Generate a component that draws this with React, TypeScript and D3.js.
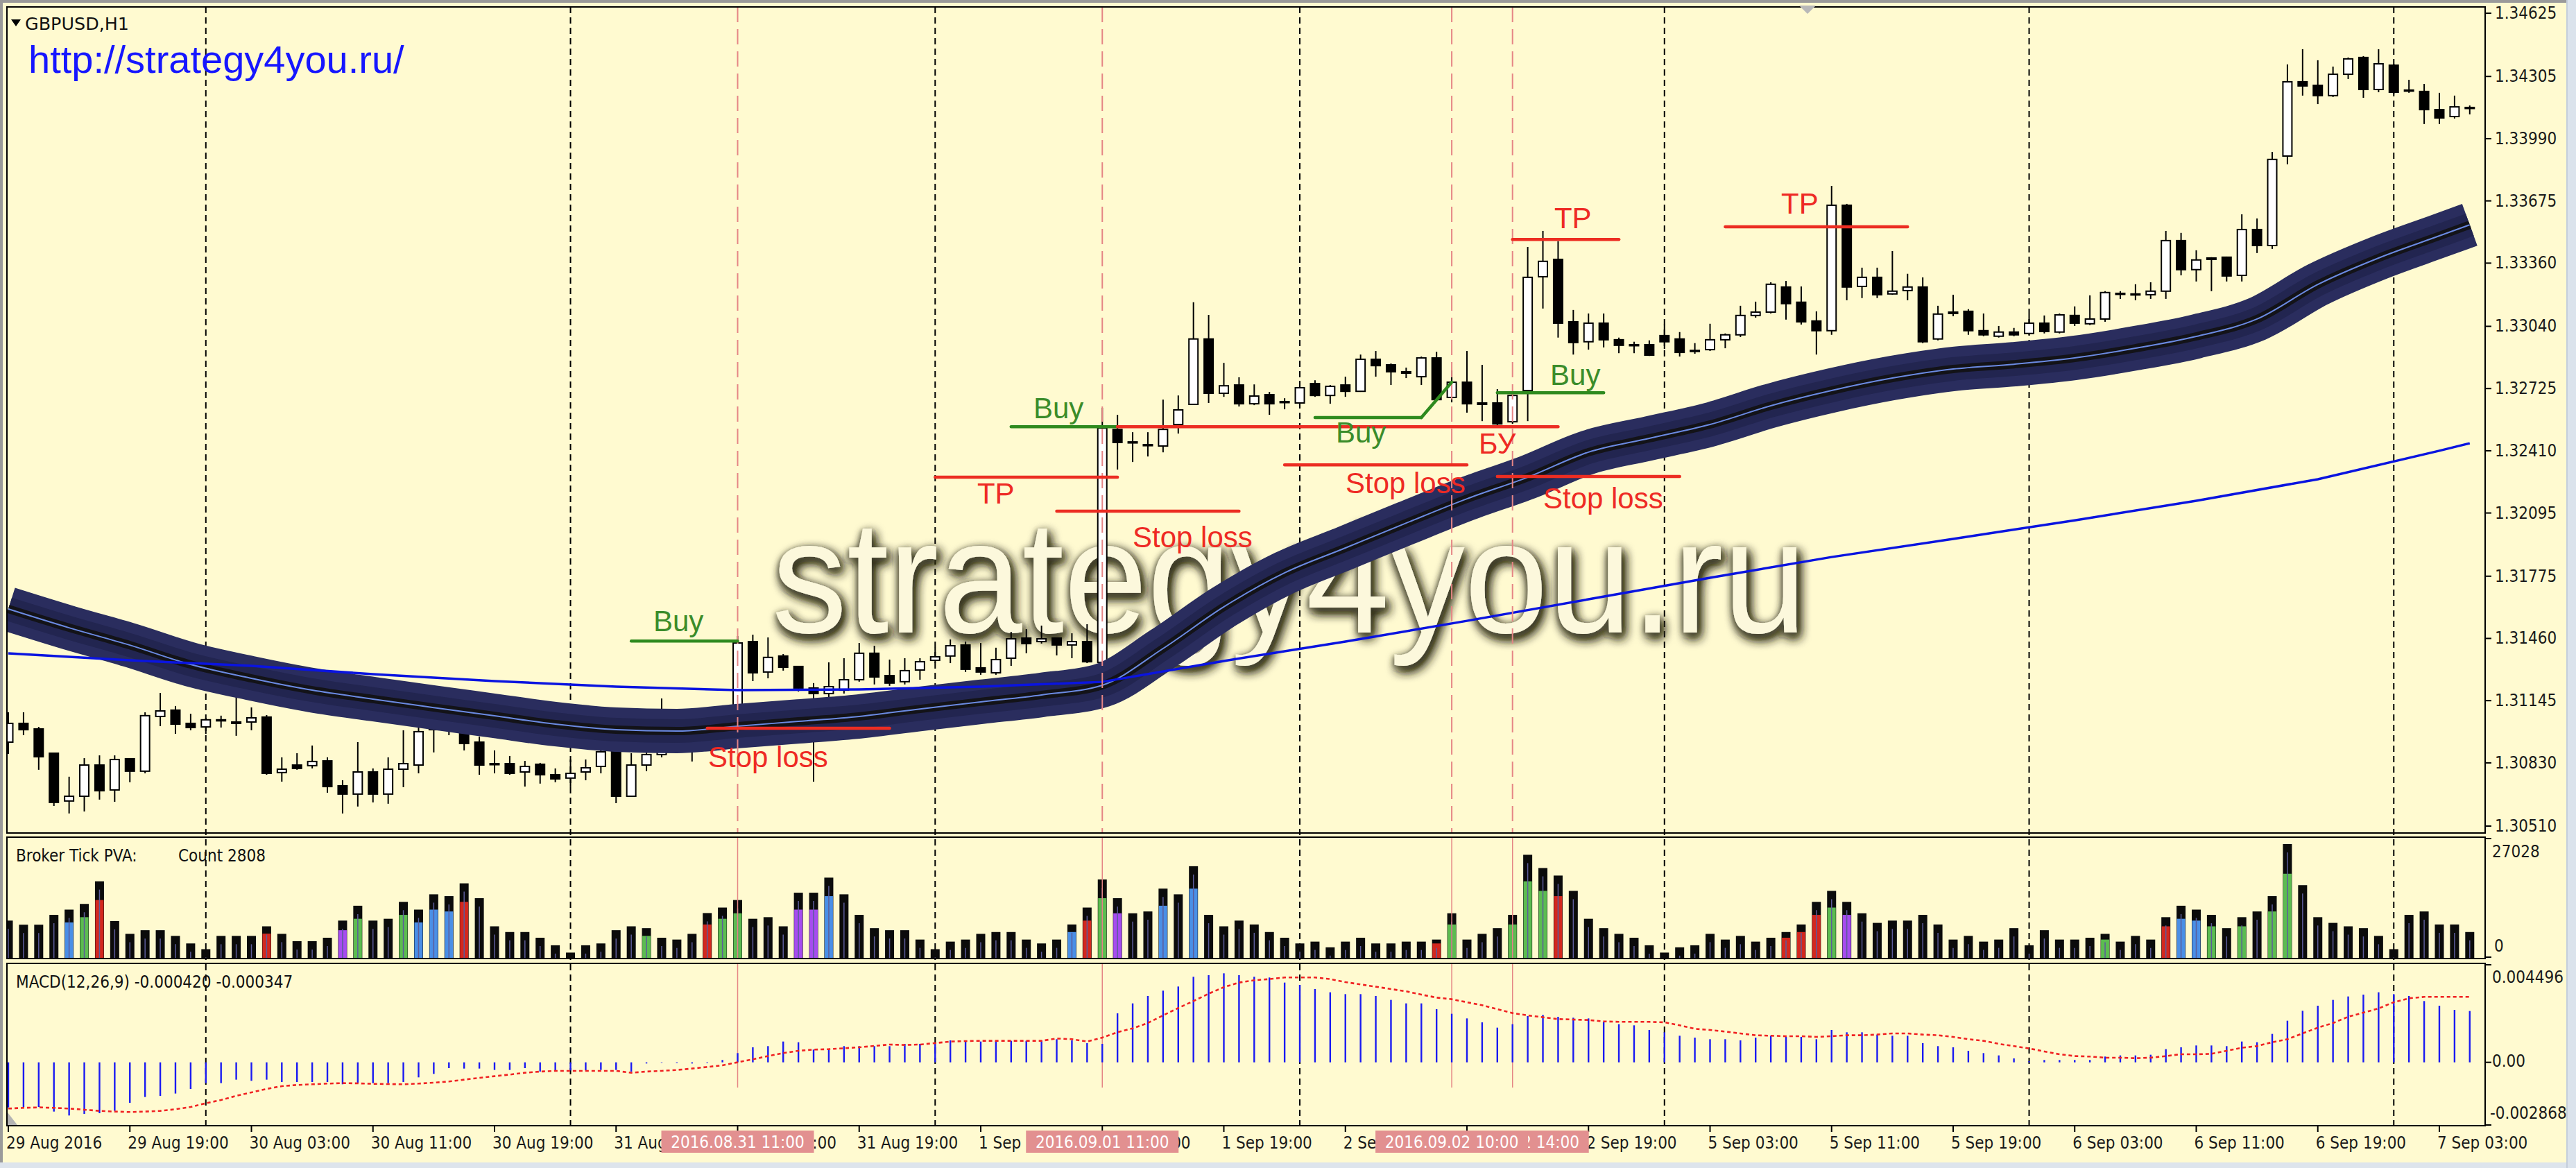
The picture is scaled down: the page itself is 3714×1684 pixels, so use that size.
import React from "react";
import * as d3 from "d3";

// ---------------- DATA ----------------
const openP = [1.30935,1.31030,1.31002,1.30879,1.30637,1.30661,1.30819,1.30693,1.30851,1.30788,
1.31065,1.31097,1.31030,1.31012,1.31048,1.31037,1.31037,1.31062,1.30781,1.30819,
1.30816,1.30840,1.30714,1.30672,1.30784,1.30672,1.30798,1.30819,1.30998,1.31034,
1.30977,1.30935,1.30826,1.30826,1.30784,1.30823,1.30770,1.30753,1.30784,1.30812,
1.30893,1.30661,1.30819,1.30872,1.31041,1.31005,1.30970,1.31005,1.31034,1.31444,
1.31290,1.31371,1.31318,1.31209,1.31181,1.31198,1.31251,1.31385,1.31272,1.31241,
1.31300,1.31349,1.31371,1.31427,1.31311,1.31286,1.31360,1.31462,1.31444,1.31462,
1.31427,1.31444,1.31339,1.32518,1.32455,1.32441,1.32434,1.32543,1.32645,1.32976,
1.32701,1.32743,1.32648,1.32694,1.32659,1.32652,1.32750,1.32690,1.32743,1.32711,
1.32873,1.32845,1.32810,1.32785,1.32880,1.32680,1.32757,1.32652,1.32652,1.32557,
1.32715,1.33291,1.33379,1.33063,1.32962,1.33056,1.32972,1.32947,1.32947,1.32993,
1.32976,1.32918,1.32922,1.32972,1.32997,1.33095,1.33112,1.33239,1.33162,1.33067,
1.33018,1.33653,1.33242,1.33288,1.33204,1.33221,1.33239,1.32976,1.33112,1.33116,
1.33018,1.32990,1.33011,1.33004,1.33056,1.33011,1.33095,1.33053,1.33077,1.33204,
1.33200,1.33200,1.33218,1.33474,1.33327,1.33386,1.33390,1.33298,1.33530,1.33449,
1.33902,1.34278,1.34260,1.34208,1.34316,1.34401,1.34239,1.34362,1.34232,1.34229,
1.34137,1.34102,1.34148];

const highP = [1.31086,1.31086,1.31012,1.30879,1.30760,1.30854,1.30868,1.30868,1.30854,1.31086,
1.31184,1.31118,1.31079,1.31058,1.31069,1.31170,1.31111,1.31072,1.30858,1.30879,
1.30918,1.30858,1.30742,1.30935,1.30802,1.30858,1.30995,1.31012,1.31058,1.31076,
1.30995,1.30963,1.30893,1.30865,1.30840,1.30830,1.30802,1.30847,1.30847,1.30907,
1.30918,1.30879,1.30900,1.31156,1.31076,1.31041,1.31023,1.31058,1.31472,1.31479,
1.31465,1.31381,1.31321,1.31234,1.31339,1.31360,1.31437,1.31423,1.31353,1.31360,
1.31360,1.31413,1.31455,1.31444,1.31437,1.31413,1.31493,1.31507,1.31525,1.31462,
1.31486,1.31532,1.32627,1.32592,1.32504,1.32504,1.32669,1.32690,1.33162,1.33098,
1.32855,1.32782,1.32746,1.32708,1.32676,1.32764,1.32767,1.32743,1.32785,1.32897,
1.32915,1.32852,1.32831,1.32887,1.32911,1.32817,1.32915,1.32845,1.32722,1.32701,
1.33442,1.33523,1.33471,1.33123,1.33105,1.33105,1.32983,1.32962,1.32969,1.33049,
1.33011,1.32955,1.33053,1.33004,1.33144,1.33165,1.33263,1.33270,1.33242,1.33116,
1.33751,1.33660,1.33337,1.33337,1.33421,1.33306,1.33288,1.33144,1.33200,1.33127,
1.33105,1.33042,1.33032,1.33098,1.33095,1.33105,1.33141,1.33197,1.33218,1.33218,
1.33253,1.33263,1.33523,1.33513,1.33425,1.33390,1.33393,1.33607,1.33586,1.33923,
1.34366,1.34443,1.34387,1.34355,1.34401,1.34408,1.34443,1.34369,1.34288,1.34267,
1.34222,1.34208,1.34158];

const lowP = [1.30875,1.30970,1.30795,1.30612,1.30574,1.30584,1.30644,1.30633,1.30732,1.30777,
1.31016,1.30977,1.30995,1.30977,1.31009,1.30967,1.30995,1.30770,1.30735,1.30795,
1.30802,1.30679,1.30574,1.30609,1.30630,1.30623,1.30707,1.30777,1.30883,1.30970,
1.30893,1.30770,1.30777,1.30770,1.30710,1.30725,1.30732,1.30707,1.30742,1.30777,
1.30626,1.30661,1.30788,1.30858,1.30970,1.30837,1.30918,1.30953,1.31012,1.31244,
1.31258,1.31297,1.31191,1.30735,1.31146,1.31181,1.31241,1.31227,1.31220,1.31227,
1.31251,1.31335,1.31335,1.31290,1.31276,1.31276,1.31321,1.31385,1.31434,1.31374,
1.31360,1.31335,1.31321,1.32315,1.32353,1.32381,1.32402,1.32497,1.32645,1.32652,
1.32683,1.32634,1.32641,1.32592,1.32620,1.32627,1.32683,1.32648,1.32683,1.32708,
1.32785,1.32743,1.32778,1.32743,1.32669,1.32655,1.32603,1.32560,1.32539,1.32546,
1.32560,1.33130,1.32983,1.32897,1.32922,1.32933,1.32904,1.32904,1.32890,1.32926,
1.32887,1.32901,1.32915,1.32929,1.32986,1.33084,1.33105,1.33074,1.33049,1.32897,
1.32997,1.33172,1.33183,1.33183,1.33200,1.33172,1.32955,1.32969,1.33091,1.32997,
1.32990,1.32983,1.32990,1.32997,1.33004,1.33004,1.33042,1.33046,1.33063,1.33179,
1.33172,1.33179,1.33179,1.33298,1.33267,1.33218,1.33267,1.33267,1.33411,1.33432,
1.33860,1.34208,1.34165,1.34201,1.34292,1.34197,1.34225,1.34215,1.34222,1.34064,
1.34064,1.34092,1.34113];

const closeP = [1.31030,1.30998,1.30861,1.30630,1.30661,1.30819,1.30689,1.30847,1.30788,1.31069,
1.31093,1.31026,1.31009,1.31048,1.31045,1.31030,1.31058,1.30777,1.30798,1.30802,
1.30837,1.30710,1.30672,1.30784,1.30672,1.30798,1.30826,1.30988,1.31034,1.31005,
1.30928,1.30819,1.30823,1.30777,1.30812,1.30770,1.30749,1.30777,1.30805,1.30886,
1.30661,1.30819,1.30872,1.31041,1.31005,1.30970,1.31005,1.31034,1.31437,1.31286,
1.31364,1.31314,1.31209,1.31181,1.31216,1.31251,1.31385,1.31265,1.31234,1.31297,
1.31342,1.31367,1.31423,1.31304,1.31290,1.31353,1.31458,1.31434,1.31458,1.31427,
1.31444,1.31342,1.32525,1.32452,1.32452,1.32437,1.32518,1.32617,1.32976,1.32701,
1.32739,1.32648,1.32687,1.32648,1.32655,1.32729,1.32690,1.32736,1.32711,1.32873,
1.32841,1.32810,1.32803,1.32880,1.32669,1.32757,1.32648,1.32645,1.32546,1.32690,
1.33288,1.33369,1.33056,1.32958,1.33056,1.32972,1.32944,1.32944,1.32894,1.32962,
1.32908,1.32915,1.32972,1.32997,1.33095,1.33112,1.33253,1.33155,1.33063,1.33018,
1.33653,1.33239,1.33288,1.33200,1.33218,1.33239,1.32962,1.33102,1.33105,1.33018,
1.32997,1.33011,1.32997,1.33056,1.33014,1.33098,1.33056,1.33077,1.33211,1.33207,
1.33204,1.33218,1.33474,1.33327,1.33376,1.33379,1.33295,1.33530,1.33449,1.33885,
1.34278,1.34257,1.34208,1.34316,1.34394,1.34239,1.34369,1.34225,1.34236,1.34137,
1.34095,1.34151,1.34144];

const tickVolume = [8851,7874,7874,10208,11457,12815,18191,8742,5702,6570,
6570,5213,3421,2063,5213,5213,5213,7493,5702,3964,
3964,4778,8851,12380,8851,9285,13304,11457,15095,14661,
17702,14172,7493,6136,6136,4778,2987,1249,2987,3421,
6570,7493,7059,4778,4344,5702,10643,11946,13738,9285,
9665,7493,15476,15476,19059,15095,10208,7059,6570,6570,
4344,2063,3855,4344,5702,6136,6136,4344,3421,4344,
7928,11946,18625,14172,10589,11023,16453,15095,21774,10208,
7493,8851,7928,6136,4778,3421,3855,2498,3855,4778,
3421,3421,3855,3855,4344,10589,4344,5702,7059,10208,
24489,21340,19548,15910,9285,7059,5702,4778,2987,1249,
2498,2987,5702,4344,5213,3855,4778,6136,7928,13304,
15910,13304,10589,8308,8851,8851,10208,7928,4344,5213,
3855,4344,7059,2987,6570,4344,4344,4778,5702,3855,
5213,4344,9665,12380,11457,10208,7059,9665,11023,14661,
27028,17267,9665,8308,7493,7059,5213,2063,10208,11023,
7928,7928,6136];

const accentBars = [4,5,6,17,22,23,26,27,28,29,30,42,46,47,48,52,53,54,70,71,72,73,76,78,94,95,99,100,101,102,117,118,119,120,121,138,142,143,144,145,147,149,150];
const accentVolume = [8417,9665,13738,5756,6570,9285,10208,8417,11457,11023,13304,5213,7928,9285,10589,11457,11457,14661,6136,8851,14172,10589,12380,16453,3421,7928,7928,18191,15910,14661,4778,6136,10208,11946,10208,4344,7493,9285,8851,7493,7493,11023,19982];
const accentTone = "bgrrpggbbbrgrggppbbrgpbbrggggrrrrgpgrbbggg".padEnd(43, "g");

const macdMain = [-0.002063,-0.002042,-0.002042,-0.002254,-0.002433,-0.002359,-0.002328,-0.002222,-0.001852,-0.001587,
-0.001534,-0.001428,-0.001217,-0.000952,-0.000952,-0.000794,-0.000846,-0.000794,-0.000899,-0.000899,
-0.000899,-0.000899,-0.001005,-0.000952,-0.000952,-0.000952,-0.000899,-0.000688,-0.000529,-0.000265,
-0.000286,-0.000286,-0.000349,-0.000349,-0.000265,-0.000423,-0.000370,-0.000370,-0.000370,-0.000349,
-0.000349,-0.000423,-0.000053,-0.000021,-0.000032,-0.000053,-0.000032,0.000106,0.000423,0.000688,
0.000741,0.000952,0.000920,0.000582,0.000582,0.000741,0.000741,0.000741,0.000741,0.000846,
0.000846,0.000899,0.001005,0.000984,0.000952,0.000984,0.000984,0.000984,0.001005,0.001058,
0.001005,0.000878,0.000846,0.002243,0.002698,0.003036,0.003280,0.003470,0.003915,0.003989,
0.004073,0.003989,0.003915,0.003883,0.003650,0.003544,0.003354,0.003206,0.003121,0.003121,
0.003036,0.002857,0.002698,0.002698,0.002433,0.002222,0.002010,0.001830,0.001587,0.001746,
0.002116,0.002169,0.002084,0.002042,0.002010,0.001852,0.001746,0.001693,0.001481,0.001375,
0.001217,0.001132,0.001058,0.001058,0.001005,0.001132,0.001217,0.001164,0.001164,0.001058,
0.001481,0.001375,0.001375,0.001270,0.001217,0.001217,0.000878,0.000741,0.000688,0.000529,
0.000423,0.000317,0.000180,0.000053,0.000106,0.000106,0.000106,0.000106,0.000265,0.000317,
0.000317,0.000349,0.000603,0.000688,0.000772,0.000772,0.000741,0.000952,0.000920,0.001301,
0.001904,0.002359,0.002592,0.002857,0.003015,0.003100,0.003206,0.003121,0.003036,0.002804,
0.002592,0.002402,0.002349];

const macdSignal = [-0.002116,-0.002084,-0.002063,-0.002084,-0.002116,-0.002169,-0.002222,-0.002254,-0.002275,-0.002254,
-0.002222,-0.002148,-0.002042,-0.001873,-0.001725,-0.001534,-0.001375,-0.001217,-0.001090,-0.001037,
-0.001005,-0.000973,-0.000952,-0.000963,-0.000984,-0.000995,-0.001005,-0.000973,-0.000931,-0.000878,
-0.000794,-0.000709,-0.000635,-0.000561,-0.000476,-0.000423,-0.000391,-0.000391,-0.000391,-0.000391,
-0.000391,-0.000476,-0.000423,-0.000391,-0.000349,-0.000286,-0.000212,-0.000138,0.000000,0.000138,
0.000286,0.000423,0.000529,0.000582,0.000603,0.000645,0.000688,0.000751,0.000815,0.000794,
0.000815,0.000878,0.000952,0.000973,0.000984,0.000984,0.000984,0.000984,0.000984,0.001090,
0.001058,0.000952,0.001132,0.001375,0.001555,0.001799,0.002148,0.002486,0.002804,0.003142,
0.003439,0.003650,0.003756,0.003809,0.003883,0.003883,0.003883,0.003809,0.003671,0.003565,
0.003460,0.003354,0.003248,0.003100,0.002962,0.002888,0.002751,0.002613,0.002433,0.002254,
0.002148,0.002063,0.001978,0.001957,0.001936,0.001873,0.001852,0.001852,0.001852,0.001830,
0.001693,0.001534,0.001481,0.001407,0.001323,0.001238,0.001217,0.001196,0.001196,0.001164,
0.001196,0.001238,0.001238,0.001270,0.001323,0.001323,0.001270,0.001238,0.001164,0.001058,
0.000984,0.000846,0.000741,0.000635,0.000497,0.000370,0.000286,0.000265,0.000212,0.000212,
0.000190,0.000212,0.000286,0.000370,0.000370,0.000391,0.000529,0.000667,0.000741,0.000920,
0.001058,0.001323,0.001587,0.001799,0.002084,0.002275,0.002465,0.002751,0.002931,0.002994,
0.002994,0.002994,0.002994];

const emaBars = [0,4,8,12,16,20,24,28,32,36,40,44,48,52,56,60,64,68,72,76,80,84,88,92,96,100,104,108,112,116,120,124,128,132,136,140,144,148,152,156,160,162];
const emaValues = [1.31609,1.31514,1.31426,1.31328,1.31258,1.31198,1.31153,1.31110,1.31068,1.31026,1.30998,1.30991,1.31016,1.31040,1.31065,1.31103,1.31139,1.31174,1.31223,1.31409,1.31620,1.31792,1.31918,1.32044,1.32167,1.32276,1.32403,1.32473,1.32543,1.32638,1.32715,1.32778,1.32824,1.32848,1.32880,1.32929,1.32989,1.33077,1.33252,1.33386,1.33498,1.33554];

const smaBars = [0,8,16,24,32,40,48,56,64,72,80,88,96,104,112,120,128,136,144,152,160,162];
const smaValues = [1.31384,1.31349,1.31321,1.31279,1.31244,1.31216,1.31198,1.31202,1.31216,1.31240,1.31346,1.31444,1.31549,1.31658,1.31767,1.31872,1.31964,1.32058,1.32157,1.32266,1.32410,1.32448];

const priceTicks = [1.34625,1.34305,1.33990,1.33675,1.33360,1.33040,1.32725,1.32410,1.32095,1.31775,1.31460,1.31145,1.30830,1.30510];
const timeTickBars = [0,8,16,24,32,40,48,56,64,72,80,88,96,104,112,120,128,136,144,152,160];
const timeTickText = ["29 Aug 2016","29 Aug 19:00","30 Aug 03:00","30 Aug 11:00","30 Aug 19:00","31 Aug 03:00","31 Aug 11:00","31 Aug 19:00","1 Sep 03:00","1 Sep 11:00","1 Sep 19:00","2 Sep 03:00","2 Sep 11:00","2 Sep 19:00","5 Sep 03:00","5 Sep 11:00","5 Sep 19:00","6 Sep 03:00","6 Sep 11:00","6 Sep 19:00","7 Sep 03:00"];
const daySeparatorBars = [13,37,61,85,109,133,157];
const eventBars = [99,48,72,95];
const eventText = ["2016.09.02 14:00","2016.08.31 11:00","2016.09.01 11:00","2016.09.02 10:00"];

// trade objects (bar index / price)
const segFromBar = [41,66,86,93,98,46,61,69,73,84,99,98,113];
const segToBar   = [48,73,93,95,105,58,73,81,102,96,106,110,125];
const segFromPrice = [1.31447,1.32532,1.32578,1.32578,1.32704,1.31005,1.32276,1.32104,1.32532,1.32339,1.33480,1.32280,1.33544];
const segToPrice   = [1.31447,1.32532,1.32578,1.32757,1.32704,1.31005,1.32276,1.32104,1.32532,1.32339,1.33480,1.32280,1.33544];
const segKind = ["g","g","g","g","g","r","r","r","r","r","r","r","r"];

const noteText = ["Buy","Stop loss","Buy","TP","Stop loss","Buy","Stop loss","БУ","TP","Buy","Stop loss","TP"];
const noteBar = [42.45,46.06,67.47,63.77,74.0,87.37,88.01,96.78,101.75,101.48,101.02,116.68];
const notePrice = [1.31497,1.30808,1.32575,1.32143,1.31923,1.32452,1.32195,1.32394,1.33537,1.32743,1.32118,1.33611];
const noteKind = ["g","r","g","r","r","g","r","r","r","g","r","r"];

// ---------------- CHART ----------------
const SMALL = "'DejaVu Sans Condensed','DejaVu Sans',sans-serif";
const ARIAL = "'Liberation Sans',Arial,sans-serif";
const toneColor: Record<string, string> = { b: "#4a8fe6", g: "#5cbc50", r: "#d3281e", p: "#a64cef" };
const BG = "#fffad0";

export default function App() {
  const W = 3714, H = 1684;
  const L = 10, R = 3583;
  const mainTop = 10, mainBot = 1201;
  const volTop = 1207, volBot = 1382;
  const mTop = 1389, mBot = 1623;

  const x = d3.scaleLinear().domain([0, 162]).range([12, 3560.8]);
  const yP = d3.scaleLinear().domain([1.30475, 1.34692]).range([1201, 0]);
  const yV = d3.scaleLinear().domain([0, 27028]).range([1381, 1217]);
  const yM = d3.scaleLinear().domain([-0.002868, 0.004496]).range([1622, 1390]);

  const bodyW = 13;

  const emaPath = d3.line<number>().x((_, i) => x(emaBars[i])).y((d) => yP(d)).curve(d3.curveMonotoneX)(emaValues) || "";
  const smaPath = d3.line<number>().x((_, i) => x(smaBars[i])).y((d) => yP(d))(smaValues) || "";
  const sigPath = d3.line<number>().x((_, i) => x(i)).y((d) => yM(d))(macdSignal) || "";

  const candles = openP.map((o, i) => {
    const c = closeP[i];
    const xc = x(i);
    const top = yP(Math.max(o, c));
    const bot = yP(Math.min(o, c));
    const up = c >= o;
    return (
      <g key={"c" + i}>
        <line x1={xc} x2={xc} y1={yP(highP[i])} y2={yP(lowP[i])} stroke="#000" strokeWidth={2} />
        <rect x={xc - bodyW / 2} y={top} width={bodyW} height={Math.max(bot - top, 1.5)}
          fill={up ? "#fff" : "#000"} stroke="#000" strokeWidth={2} />
      </g>
    );
  });

  const volBars = tickVolume.map((v, i) => (
    <rect key={"v" + i} x={x(i) - bodyW / 2} y={yV(v)} width={bodyW} height={yV(0) - yV(v)} fill="#0b0b0b" />
  ));
  const volAccent = accentBars.map((b, k) => (
    <rect key={"va" + k} x={x(b) - bodyW / 2 + 0.5} y={yV(accentVolume[k])} width={bodyW - 1}
      height={yV(0) - yV(accentVolume[k])} fill={toneColor[accentTone[k]]} />
  ));
  const volInner = tickVolume.map((v, i) => (
    <line key={"vi" + i} x1={x(i)} x2={x(i)} y1={yV(0)} y2={Math.min(yV(v) + 12, yV(0))} stroke="#5c5c9a" strokeWidth={1.5} />
  ));

  const hist = macdMain.map((v, i) => (
    <line key={"h" + i} x1={x(i)} x2={x(i)} y1={yM(0)} y2={yM(v)} stroke="#1a1af2" strokeWidth={2.4} />
  ));

  const lineColor = (k: string) => (k === "g" ? "#2e8a1e" : "#ec2d22");
  const textColor = (k: string) => (k === "g" ? "#3b8c2a" : "#ee2a24");

  return (
    <svg width={W} height={H} style={{ position: "absolute", left: 0, top: 0, display: "block" }}
      xmlns="http://www.w3.org/2000/svg">
      <defs>
        <clipPath id="clipMain"><rect x={L + 1} y={mainTop + 1} width={R - L - 2} height={mainBot - mainTop - 2} /></clipPath>
        <clipPath id="clipVol"><rect x={L + 1} y={volTop + 1} width={R - L - 2} height={volBot - volTop - 2} /></clipPath>
        <clipPath id="clipMacd"><rect x={L + 1} y={mTop + 1} width={R - L - 2} height={mBot - mTop - 2} /></clipPath>
        <clipPath id="clipRight"><rect x={0} y={0} width={3700} height={H} /></clipPath>
        <filter id="wm" x="-5%" y="-30%" width="110%" height="160%">
          <feGaussianBlur in="SourceAlpha" stdDeviation="8" result="b" />
          <feOffset in="b" dx="4" dy="7" result="o" />
          <feFlood floodColor="#2c2a1a" floodOpacity="1" />
          <feComposite in2="o" operator="in" result="s" />
          <feGaussianBlur in="SourceAlpha" stdDeviation="3" result="b2" />
          <feOffset in="b2" dx="-2" dy="2" result="o2" />
          <feFlood floodColor="#55533c" floodOpacity="0.7" />
          <feComposite in2="o2" operator="in" result="s2" />
          <feMerge><feMergeNode in="s" /><feMergeNode in="s" /><feMergeNode in="s2" /><feMergeNode in="SourceGraphic" /></feMerge>
        </filter>
      </defs>

      <rect x={0} y={0} width={W} height={H} fill={BG} />
      {/* window frame */}
      <rect x={0} y={0} width={W} height={4} fill="#9a9a9a" />
      <rect x={0} y={0} width={4} height={H} fill="#9a9a9a" />
      <rect x={3700} y={0} width={14} height={H} fill="#dbe3ec" />
      <line x1={3701} x2={3701} y1={0} y2={H} stroke="#c4ceda" strokeWidth={2} />
      <rect x={0} y={1676} width={3700} height={8} fill="#dde4ec" />

      {/* day separators */}
      {daySeparatorBars.map((b) => (
        <line key={"d" + b} x1={x(b)} x2={x(b)} y1={mainTop} y2={mBot} stroke="#000" strokeWidth={2} strokeDasharray="9 6" />
      ))}

      {/* watermark */}
      <g clipPath="url(#clipMain)">
        <text x={1113} y={912} fontFamily={ARIAL} fontSize={232} fill="#fcf8dc" filter="url(#wm)"
          textLength={1492} lengthAdjust="spacingAndGlyphs">strategy4you.ru</text>
      </g>

      {/* main panel */}
      <g clipPath="url(#clipMain)">
        {candles}
        <path d={emaPath} fill="none" stroke="#2a2d5e" strokeWidth={64} />
        <path d={emaPath} fill="none" stroke="#222550" strokeWidth={34} />
        <path d={emaPath} fill="none" stroke="#131318" strokeWidth={12} />
        <path d={emaPath} fill="none" stroke="#6b8ae2" strokeWidth={2} />
        <path d={smaPath} fill="none" stroke="#0a14e0" strokeWidth={3.5} />
        {eventBars.map((b) => (
          <line key={"e" + b} x1={x(b)} x2={x(b)} y1={mainTop} y2={mainBot} stroke="#e58585" strokeWidth={2} strokeDasharray="22 10" />
        ))}
        {segFromBar.map((b, k) => (
          <line key={"s" + k} x1={x(b)} x2={x(segToBar[k])} y1={yP(segFromPrice[k])} y2={yP(segToPrice[k])}
            stroke={lineColor(segKind[k])} strokeWidth={4.5} strokeLinecap="round" />
        ))}
        {noteText.map((t, k) => (
          <text key={"n" + k} x={x(noteBar[k])} y={yP(notePrice[k])} fontFamily={ARIAL} fontSize={42}
            fill={textColor(noteKind[k])}>{t}</text>
        ))}
      </g>

      {/* volume panel */}
      <g clipPath="url(#clipVol)">
        {volBars}
        {volAccent}
        {volInner}
        {eventBars.map((b) => (
          <line key={"ev" + b} x1={x(b)} x2={x(b)} y1={volTop} y2={volBot} stroke="#e58585" strokeWidth={1.5} />
        ))}
      </g>

      {/* macd panel */}
      <g clipPath="url(#clipMacd)">
        {eventBars.map((b) => (
          <line key={"em" + b} x1={x(b)} x2={x(b)} y1={mTop} y2={1568} stroke="#e58585" strokeWidth={1.5} />
        ))}
        {hist}
        <path d={sigPath} fill="none" stroke="#f02222" strokeWidth={2.6} strokeDasharray="5 4" />
        <polygon points="11,1604 11,1622 25,1622" fill="#b4b4b4" />
      </g>

      {/* panel borders */}
      <rect x={L} y={mainTop} width={R - L} height={mainBot - mainTop} fill="none" stroke="#000" strokeWidth={2} />
      <rect x={L} y={volTop} width={R - L} height={volBot - volTop} fill="none" stroke="#000" strokeWidth={2} />
      <rect x={L} y={mTop} width={R - L} height={mBot - mTop} fill="none" stroke="#000" strokeWidth={2} />
      <polygon points="2594,8 2618,8 2606,20" fill="#b8b8b8" />

      {/* titles */}
      <polygon points="16,28 30,28 23,38" fill="#000" />
      <text x={36} y={43} fontFamily={SMALL} fontSize={24} fill="#111" textLength={150} lengthAdjust="spacingAndGlyphs">GBPUSD,H1</text>
      <text x={41} y={105} fontFamily={ARIAL} fontSize={56} fill="#1616ff">http://strategy4you.ru/</text>
      <text x={23} y={1242} fontFamily={SMALL} fontSize={24} fill="#111">Broker Tick PVA:</text>
      <text x={257} y={1242} fontFamily={SMALL} fontSize={24} fill="#111">Count  2808</text>
      <text x={23} y={1424} fontFamily={SMALL} fontSize={24} fill="#111">MACD(12,26,9) -0.000420 -0.000347</text>

      {/* price axis */}
      {priceTicks.map((p) => (
        <g key={"p" + p}>
          <line x1={R} x2={R + 9} y1={yP(p)} y2={yP(p)} stroke="#000" strokeWidth={2} />
          <text x={3597} y={yP(p) + 8} fontFamily={SMALL} fontSize={24} fill="#1a1a1a">{p.toFixed(5)}</text>
        </g>
      ))}
      <g clipPath="url(#clipRight)" fontFamily={SMALL} fontSize={24} fill="#1a1a1a">
        <line x1={R} x2={R + 9} y1={volTop + 2} y2={volTop + 2} stroke="#000" strokeWidth={2} />
        <line x1={R} x2={R + 9} y1={volBot - 2} y2={volBot - 2} stroke="#000" strokeWidth={2} />
        <text x={3593} y={1236}>27028</text>
        <text x={3596} y={1372}>0</text>
        <line x1={R} x2={R + 9} y1={mTop + 2} y2={mTop + 2} stroke="#000" strokeWidth={2} />
        <line x1={R} x2={R + 9} y1={yM(0)} y2={yM(0)} stroke="#000" strokeWidth={2} />
        <line x1={R} x2={R + 9} y1={mBot - 1} y2={mBot - 1} stroke="#000" strokeWidth={2} />
        <text x={3593} y={1417}>0.004496</text>
        <text x={3593} y={1538}>0.00</text>
        <text x={3590} y={1613}>-0.002868</text>
      </g>

      {/* time axis */}
      {timeTickBars.map((b, k) => (
        <g key={"t" + b}>
          <line x1={x(b)} x2={x(b)} y1={mBot} y2={mBot + 9} stroke="#000" strokeWidth={2} />
          <text x={x(b) - 3} y={1656} fontFamily={SMALL} fontSize={24} fill="#1a1a1a">{timeTickText[k]}</text>
        </g>
      ))}
      {eventBars.map((b, k) => (
        <g key={"eb" + b}>
          <rect x={x(b) - 110} y={1630} width={220} height={32} fill="#e29090" />
          <text x={x(b)} y={1655} textAnchor="middle" fontFamily={SMALL} fontSize={24} fill="#fff">{eventText[k]}</text>
        </g>
      ))}
    </svg>
  );
}
